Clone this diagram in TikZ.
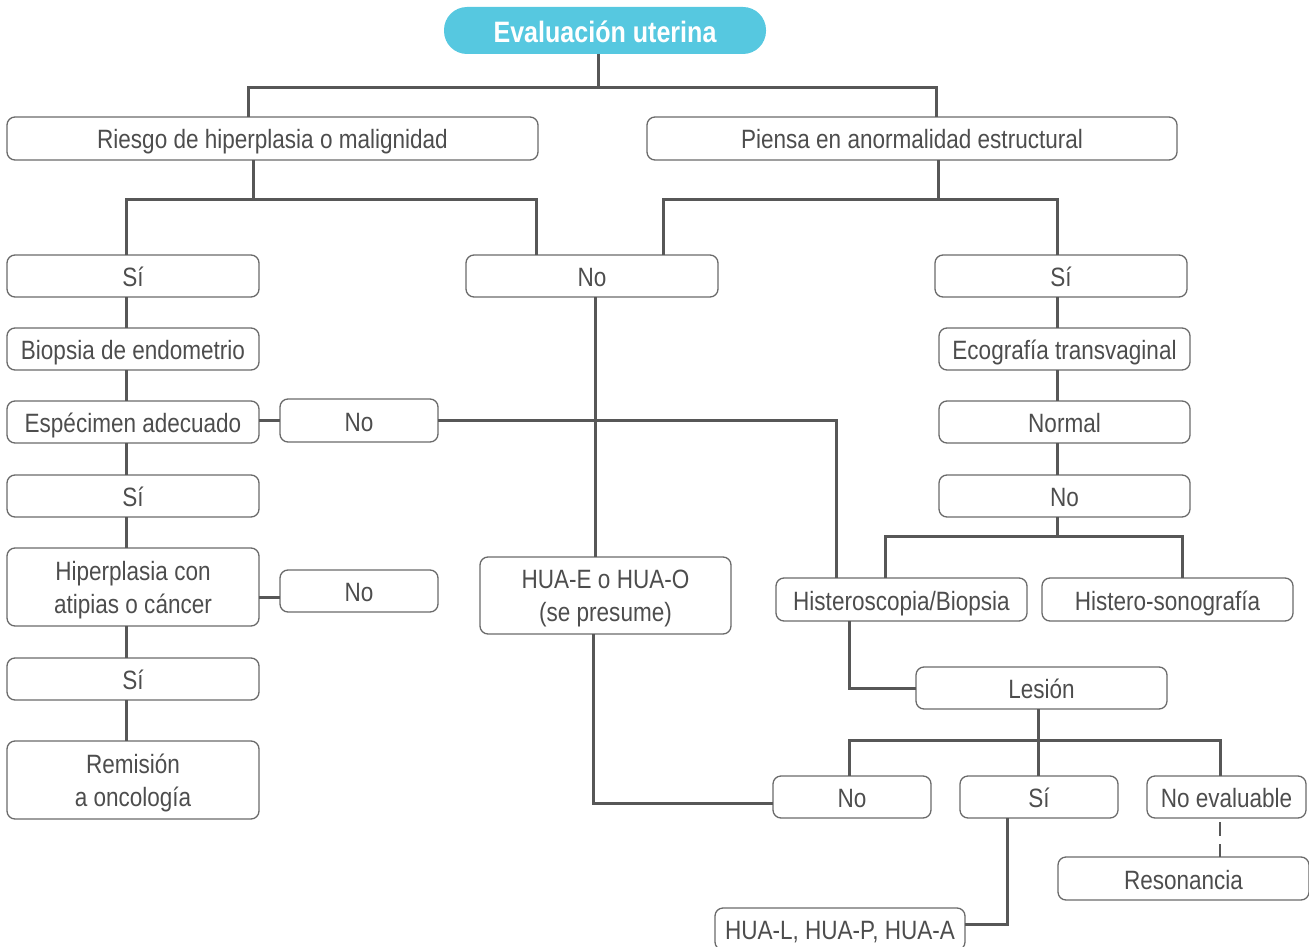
\documentclass[tikz,border=0pt]{standalone}
\usepackage{fontspec}
\setmainfont[FakeStretch=0.85]{Liberation Sans}
\definecolor{evalc}{HTML}{56C8E0}
\definecolor{txtc}{HTML}{4D4D4D}
\definecolor{bordc}{HTML}{6A6A6A}
\definecolor{linec}{HTML}{575757}
\newcommand\fs{\fontsize{26.5}{33}\selectfont}
\newcommand\bx[7][]{\node[box,#1,minimum width={#5-#3},minimum height={#6-#4}] (#2) at ({(#3+#5)/2},{(#4+#6)/2}) {#7};}
\begin{document}
\begin{tikzpicture}[x=1pt,y=-1pt,
  box/.style={draw=bordc, line width=1.3pt, rounded corners=8pt, inner sep=0pt, outer sep=0pt, text=txtc, align=center, font=\fs},
  one/.style={text height=25pt, text depth=4pt},
  two/.style={text depth=0pt},
  conn/.style={draw=linec, line width=3pt},
  dashconn/.style={draw=linec, line width=2.5pt, dash pattern=on 0pt off 4pt on 14pt off 8pt on 20pt off 0pt},
]
\useasboundingbox (0,0) rectangle (1309,947);
\clip (0,0) rectangle (1309,947);

% title
\node[fill=evalc, rounded corners=23pt, inner sep=0pt, outer sep=0pt, text=white,
  font=\bfseries\fontsize{29.5}{31}\selectfont, text height=25pt, text depth=0pt,
  minimum width=322, minimum height=47] (eval) at (605,30.5) {Evaluación uterina};

% boxes
\bx[one]{riesgo}{7}{117}{538}{160}{Riesgo de hiperplasia o malignidad}
\bx[one]{piensa}{647}{117}{1177}{160}{Piensa en anormalidad estructural}
\bx[one]{si1}{7}{255}{259}{297}{Sí}
\bx[one]{no1}{466}{255}{718}{297}{No}
\bx[one]{si2}{935}{255}{1187}{297}{Sí}
\bx[one]{biopsia}{7}{328}{259}{370}{Biopsia de endometrio}
\bx[one]{espec}{7}{401}{259}{443}{Espécimen adecuado}
\bx[one]{noE}{280}{399}{438}{442}{No}
\bx[one]{si3}{7}{475}{259}{517}{Sí}
\bx[two]{hiper}{7}{548}{259}{626}{Hiperplasia con\\atipias o cáncer}
\bx[one]{noH}{280}{570}{438}{612}{No}
\bx[one]{si4}{7}{658}{259}{700}{Sí}
\bx[two]{remis}{7}{741}{259}{819}{Remisión\\a oncología}
\bx[two]{huaeo}{480}{557}{731}{634}{HUA-E o HUA-O\\(se presume)}
\bx[one]{eco}{939}{328}{1190}{370}{Ecografía transvaginal}
\bx[one]{normal}{939}{401}{1190}{443}{Normal}
\bx[one]{no2}{939}{475}{1190}{517}{No}
\bx[one]{histero}{776}{578}{1027}{621}{Histeroscopia/Biopsia}
\bx[one]{hsono}{1042}{578}{1293}{621}{Histero-sonografía}
\bx[one]{lesion}{916}{667}{1167}{709}{Lesión}
\bx[one]{noL}{773}{776}{931}{818}{No}
\bx[one]{siL}{960}{776}{1118}{818}{Sí}
\bx[one]{noev}{1147}{776}{1306}{818}{No evaluable}
\bx[one]{reson}{1058}{857}{1309}{900}{Resonancia}
\node[box, one, minimum width=250, minimum height=42] (hual) at (840,929) {HUA-L, HUA-P, HUA-A};

% connectors
\draw[conn] (eval.south -| 598,0) -- (598,88) coordinate (f1);
\draw[conn] (riesgo.north -| 248,0) |- (f1) -| (piensa.north -| 936,0);
\draw[conn] (riesgo.south -| 253,0) -- (253,199) coordinate (f2);
\draw[conn] (si1.north -| 126,0) |- (f2) -| (no1.north -| 536,0);
\draw[conn] (piensa.south -| 938,0) -- (938,199) coordinate (f3);
\draw[conn] (no1.north -| 663,0) |- (f3) -| (si2.north -| 1057,0);

\draw[conn] (si1.south -| 126,0) -- (biopsia.north -| 126,0);
\draw[conn] (biopsia.south -| 126,0) -- (espec.north -| 126,0);
\draw[conn] (espec.south -| 126,0) -- (si3.north -| 126,0);
\draw[conn] (si3.south -| 126,0) -- (hiper.north -| 126,0);
\draw[conn] (hiper.south -| 126,0) -- (si4.north -| 126,0);
\draw[conn] (si4.south -| 126,0) -- (remis.north -| 126,0);
\draw[conn] (espec.east |- 0,420) -- (noE.west |- 0,420);
\draw[conn] (hiper.east |- 0,597) -- (noH.west |- 0,597);

\draw[conn] (noE.east |- 0,420) -| (histero.north -| 836,0);
\draw[conn] (no1.south -| 595,0) -- (huaeo.north -| 595,0);
\draw[conn] (huaeo.south -| 593,0) |- (noL.west |- 0,803);

\draw[conn] (si2.south -| 1057,0) -- (eco.north -| 1057,0);
\draw[conn] (eco.south -| 1057,0) -- (normal.north -| 1057,0);
\draw[conn] (normal.south -| 1057,0) -- (no2.north -| 1057,0);
\draw[conn] (no2.south -| 1057,0) -- (1057,536) coordinate (f4);
\draw[conn] (histero.north -| 885,0) |- (f4) -| (hsono.north -| 1182,0);

\draw[conn] (histero.south -| 849,0) |- (lesion.west);
\draw[conn] (lesion.south -| 1038,0) -- (1038,740) coordinate (f5);
\draw[conn] (noL.north -| 849,0) |- (f5) -| (noev.north -| 1220,0);
\draw[conn] (f5) -- (siL.north -| 1038,0);
\draw[conn] (siL.south -| 1007,0) |- (hual.east |- 0,924);
\draw[dashconn] (noev.south -| 1220,0) -- (reson.north -| 1220,0);
\end{tikzpicture}
\end{document}
